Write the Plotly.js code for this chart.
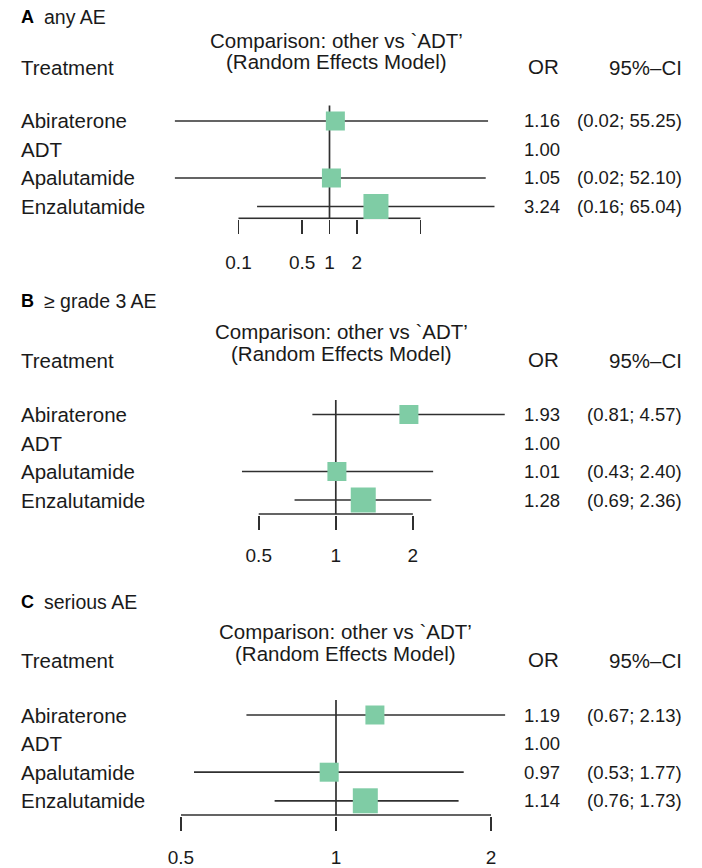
<!DOCTYPE html>
<html><head><meta charset="utf-8">
<script src="https://cdn.plot.ly/plotly-3.0.1.min.js"></script>
<style>html,body{margin:0;padding:0;background:#fff}</style>
</head><body><div id="chart" style="width:702px;height:868px"></div>
<script>
// ---------- data ----------
const treatments = ['Abiraterone', 'ADT', 'Apalutamide', 'Enzalutamide'];
const panelLetters = ['A', 'B', 'C'];
const panelNames = ['any AE', '≥ grade 3 AE', 'serious AE'];

const orA = [1.16, 1.00, 1.05, 3.24];
const lowerA = [0.02, null, 0.02, 0.16];
const upperA = [55.25, null, 52.10, 65.04];

const orB = [1.93, 1.00, 1.01, 1.28];
const lowerB = [0.81, null, 0.43, 0.69];
const upperB = [4.57, null, 2.40, 2.36];

const orC = [1.19, 1.00, 0.97, 1.14];
const lowerC = [0.67, null, 0.53, 0.76];
const upperC = [2.13, null, 1.77, 1.73];

const tickValsA = [0.1, 0.5, 1, 2, 10];
const tickTextA = ['0.1', '0.5', '1', '2', ''];
const tickValsB = [0.5, 1, 2];
const tickTextB = ['0.5', '1', '2'];
const tickValsC = [0.5, 1, 2];
const tickTextC = ['0.5', '1', '2'];

const comparisonTitle = 'Comparison: other vs `ADT’';
const modelTitle = '(Random Effects Model)';
const headTreatment = 'Treatment';
const headOR = 'OR';
const headCI = '95%–CI';

// ---------- styles / geometry ----------
const W = 702, H = 868;
const FONT = 'Liberation Sans, Arial, sans-serif';
const TXT = '#1a1a1a';
const LINE = '#303030';
const LW = 1.7;
const BOX = '#7FCCA5';
const boxSize = {Abiraterone: 19, Apalutamide: 19, Enzalutamide: 25};
const LABEL_SIZE = 20.5, NUM_SIZE = 18.5;

const panels = [
  {or: orA, lo: lowerA, hi: upperA, tv: tickValsA, tt: tickTextA,
   onePx: 329.5, pxPerDec: 91, row1: 121, step: 28.5, axisPx: 218.3, refTop: 105.5,
   title: 17, comp: 41, model: 62, head: 67, compX: 336, standoff: 12},
  {or: orB, lo: lowerB, hi: upperB, tv: tickValsB, tt: tickTextB,
   onePx: 335.8, pxPerDec: 256, row1: 414.5, step: 28.5, axisPx: 514, refTop: 400,
   title: 301, comp: 331, model: 353, head: 360, compX: 341, standoff: 9},
  {or: orC, lo: lowerC, hi: upperC, tv: tickValsC, tt: tickTextC,
   onePx: 336, pxPerDec: 515, row1: 715, step: 28.6, axisPx: 815, refTop: 700,
   title: 602, comp: 631, model: 653, head: 660, compX: 345, standoff: 10}
];

const traces = [];
const annotations = [];
const layout = {
  width: W, height: H, margin: {l: 0, r: 0, t: 0, b: 0},
  paper_bgcolor: '#fff', plot_bgcolor: 'rgba(0,0,0,0)',
  showlegend: false, font: {family: FONT, color: TXT, size: 19},
  annotations: annotations
};
const py = p => 1 - p / H;
const px = p => p / W;

panels.forEach((P, k) => {
  const sfx = k === 0 ? '' : String(k + 1);
  const xa = 'x' + sfx, ya = 'y' + sfx;
  const valAt = p => 1 + (p - P.row1) / P.step;
  const topPx = P.refTop - 2, botPx = P.axisPx + 0.9;
  const axisVal = valAt(P.axisPx);

  layout['xaxis' + sfx] = {
    type: 'log', domain: [0, 1], anchor: ya,
    range: [-P.onePx / P.pxPerDec, (W - P.onePx) / P.pxPerDec],
    tickvals: P.tv, ticktext: P.tt, ticks: 'outside', ticklen: 14, tickwidth: LW,
    tickcolor: LINE, showline: false, showgrid: false, zeroline: false,
    tickfont: {size: 19, color: TXT, family: FONT}, ticklabelstandoff: P.standoff,
    fixedrange: true
  };
  layout['yaxis' + sfx] = {
    domain: [py(botPx), py(topPx)], anchor: xa,
    range: [valAt(botPx), valAt(topPx)],
    showticklabels: false, ticks: '', showgrid: false, zeroline: false, showline: false,
    fixedrange: true
  };

  // CI lines
  const cx = [], cy = [];
  treatments.forEach((t, i) => {
    if (P.lo[i] !== null) { cx.push(P.lo[i], P.hi[i], null); cy.push(i + 1, i + 1, null); }
  });
  traces.push({x: cx, y: cy, xaxis: xa, yaxis: ya, mode: 'lines',
    line: {color: LINE, width: LW}, hoverinfo: 'skip'});
  // reference line at OR = 1
  traces.push({x: [1, 1], y: [valAt(P.refTop), axisVal], xaxis: xa, yaxis: ya, mode: 'lines',
    line: {color: LINE, width: LW}, hoverinfo: 'skip'});
  // axis bracket
  traces.push({x: [P.tv[0], P.tv[P.tv.length - 1]], y: [axisVal, axisVal], xaxis: xa, yaxis: ya,
    mode: 'lines', line: {color: LINE, width: LW}, hoverinfo: 'skip'});
  // squares
  const sx = [], sy = [], ss = [];
  treatments.forEach((t, i) => {
    if (P.lo[i] !== null) { sx.push(P.or[i]); sy.push(i + 1); ss.push(boxSize[t]); }
  });
  traces.push({x: sx, y: sy, xaxis: xa, yaxis: ya, mode: 'markers',
    marker: {symbol: 'square', size: ss, color: BOX, opacity: 1, line: {width: 0}},
    hoverinfo: 'skip'});

  // titles
  annotations.push({xref: 'paper', yref: 'paper', x: px(19), y: py(P.title), xanchor: 'left',
    yanchor: 'middle', text: '<b>' + panelLetters[k] + '</b>', showarrow: false,
    font: {size: 18, family: 'Liberation Sans, Arial', color: '#000'}});
  annotations.push({xref: 'paper', yref: 'paper', x: px(42), y: py(P.title), xanchor: 'left',
    yanchor: 'middle', text: panelNames[k], showarrow: false, font: {size: 19.5}});
  // comparison heading
  annotations.push({xref: 'paper', yref: 'paper', x: px(P.compX), y: py(P.comp), xanchor: 'center',
    yanchor: 'middle', text: comparisonTitle, showarrow: false, font: {size: LABEL_SIZE}});
  annotations.push({xref: 'paper', yref: 'paper', x: px(P.compX), y: py(P.model), xanchor: 'center',
    yanchor: 'middle', text: modelTitle, showarrow: false, font: {size: LABEL_SIZE}});
  // column headers
  annotations.push({xref: 'paper', yref: 'paper', x: px(19), y: py(P.head), xanchor: 'left',
    yanchor: 'middle', text: headTreatment, showarrow: false, font: {size: LABEL_SIZE}});
  annotations.push({xref: 'paper', yref: 'paper', x: px(561), y: py(P.head - 1), xanchor: 'right',
    yanchor: 'middle', text: headOR, showarrow: false, font: {size: LABEL_SIZE}});
  annotations.push({xref: 'paper', yref: 'paper', x: px(684), y: py(P.head), xanchor: 'right',
    yanchor: 'middle', text: headCI, showarrow: false, font: {size: LABEL_SIZE}});
  // rows
  treatments.forEach((t, i) => {
    annotations.push({xref: 'paper', yref: ya, x: px(19), y: i + 1, xanchor: 'left',
      yanchor: 'middle', text: t, showarrow: false, font: {size: LABEL_SIZE}});
    annotations.push({xref: 'paper', yref: ya, x: px(562), y: i + 1, xanchor: 'right',
      yanchor: 'middle', text: P.or[i].toFixed(2), showarrow: false, font: {size: NUM_SIZE}});
    if (P.lo[i] !== null) {
      annotations.push({xref: 'paper', yref: ya, x: px(684), y: i + 1, xanchor: 'right',
        yanchor: 'middle', text: '(' + P.lo[i].toFixed(2) + '; ' + P.hi[i].toFixed(2) + ')',
        showarrow: false, font: {size: NUM_SIZE}});
    }
  });
});

Plotly.newPlot('chart', traces, layout, {staticPlot: true, displayModeBar: false});
</script></body></html>
